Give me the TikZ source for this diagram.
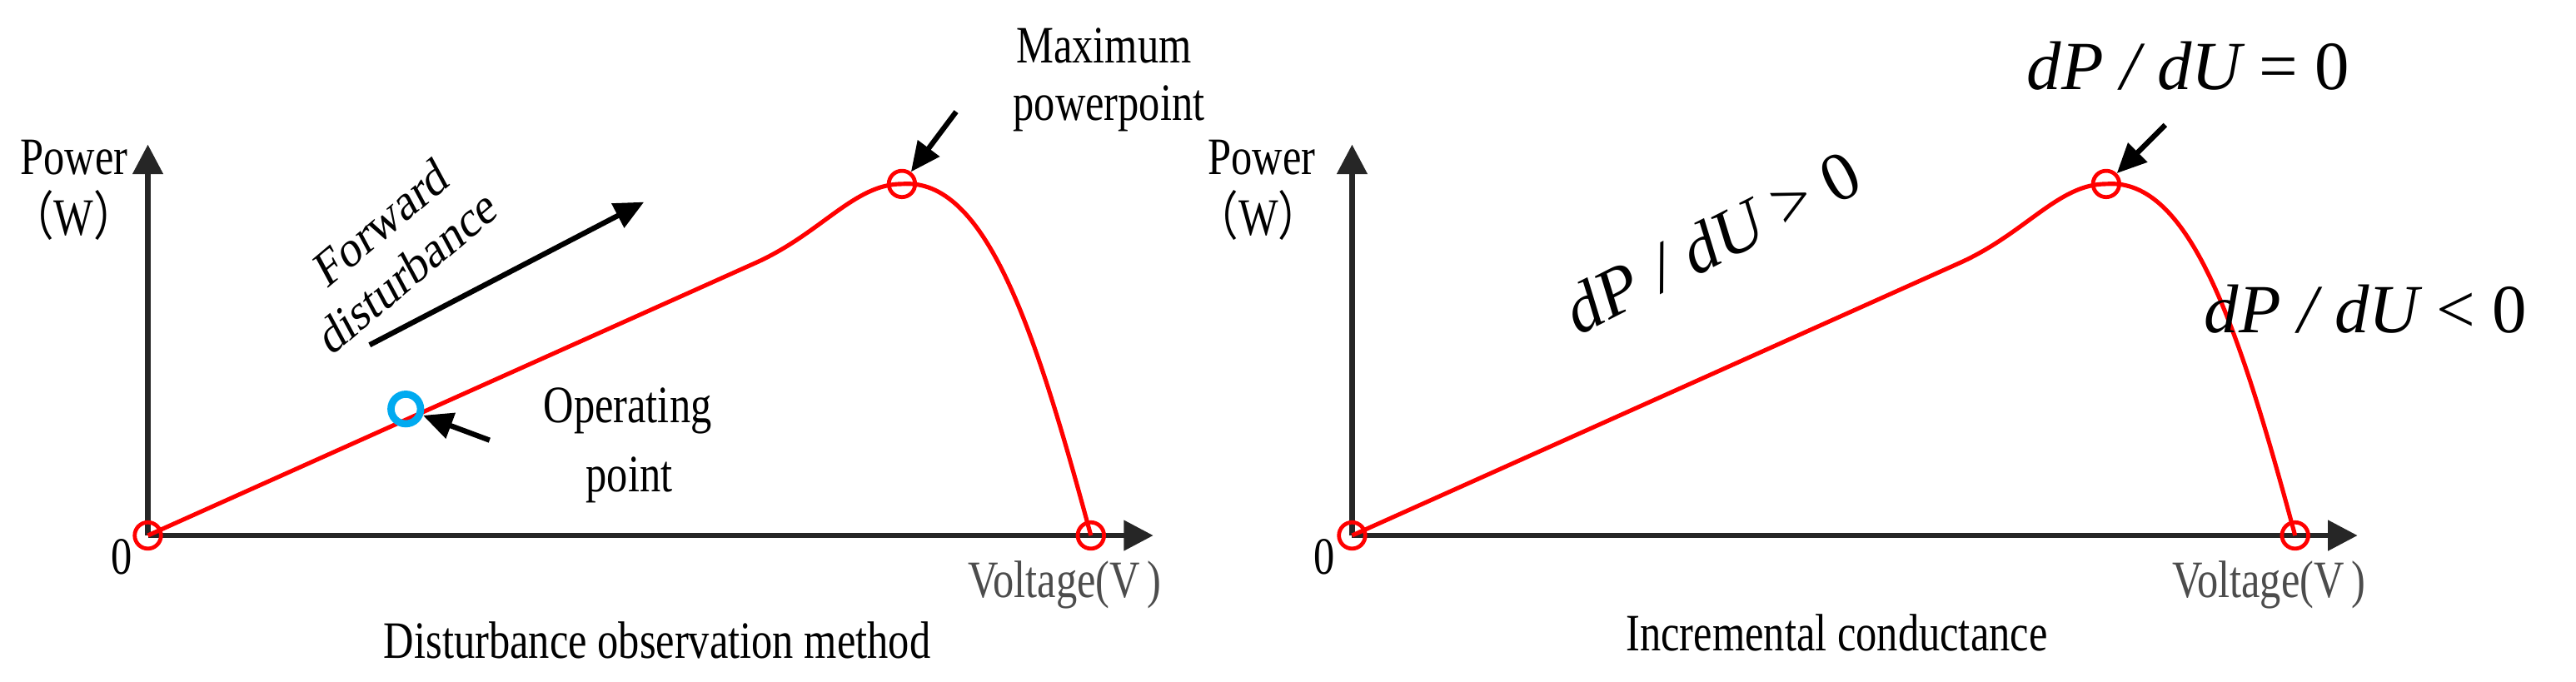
\documentclass[tikz,border=0pt]{standalone}
\usepackage{fontspec}
\setmainfont{Liberation Serif}
\newfontfamily\cjk{Noto Sans CJK SC}
\usetikzlibrary{arrows.meta}
\begin{document}
\begin{tikzpicture}[x=0.5pt,y=-0.5pt,
  axis/.style={line width=1.6pt,draw=black!85,-{Triangle[length=9pt,width=9pt]}},
  curve/.style={red,line width=1.3pt},
  pt/.style={draw=red,line width=1.2pt,circle,minimum size=8pt,inner sep=0pt},
  callout/.style={line width=1.6pt,-{Triangle[length=9pt,width=8pt]}},
  lbl/.style={font=\fontsize{16}{18}\selectfont,xscale=0.8,align=center},
  mlbl/.style={font=\fontsize{21}{23}\selectfont\itshape}]
\useasboundingbox (0,0) rectangle (1568,415);
% ---- left panel
\coordinate (O1) at (90,326);
\coordinate (Y1) at (90,88);
\coordinate (X1) at (702,326);
\draw[axis] (O1) -- (Y1);
\draw[axis] (O1) -- (X1);
\coordinate (P1) at (549,112);
\coordinate (E1) at (664,326);
\draw[curve] (O1) -- (460,160) .. controls (500,142) and (520,112) .. (P1)
  .. controls (600,108) and (630,200) .. (E1);
\node[pt] (o1) at (O1) {};
\node[pt] (m1) at (P1) {};
\node[pt] (e1) at (E1) {};
\node[pt,draw={rgb,255:red,0;green,170;blue,240},line width=2.2pt,minimum size=9pt] (op) at (247,249) {};
\node[lbl] (pw1) at (45,96) {Power};
\node[lbl] (w1) at (45,131) {{\cjk （}W{\cjk ）}};
\node[lbl] (z1) at (74,339) {0};
\node[lbl,text=black!70] (v1) at (648,356) {Voltage(V\,)};
\node[lbl] (t1) at (400,390) {Disturbance observation method};
\node[lbl] (mx) at (672,28) {Maximum};
\node[lbl] (pp) at (675,66) {powerpoint};
\draw[callout] (582,68) -- (m1);
\node[lbl] (opl) at (382,250) {Operating};
\node[lbl] (opl2) at (383,292) {point};
\draw[callout] (298,268) -- (op);
\coordinate (fa) at (225,210);
\coordinate (fb) at (392,123);
\draw[callout] (fa) -- (fb);
\node[lbl,rotate=34,xscale=1.05] (fw) at (240,150) {Forward\\disturbance};
% ---- right panel
\coordinate (O2) at (823,326);
\coordinate (Y2) at (823,88);
\coordinate (X2) at (1435,326);
\draw[axis] (O2) -- (Y2);
\draw[axis] (O2) -- (X2);
\coordinate (P2) at (1282,112);
\coordinate (E2) at (1397,326);
\draw[curve] (O2) -- (1193,160) .. controls (1233,142) and (1253,112) .. (P2)
  .. controls (1333,108) and (1363,200) .. (E2);
\node[pt] (o2) at (O2) {};
\node[pt] (m2) at (P2) {};
\node[pt] (e2) at (E2) {};
\node[lbl] (pw2) at (768,96) {Power};
\node[lbl] (w2) at (766,131) {{\cjk （}W{\cjk ）}};
\node[lbl] (z2) at (806,339) {0};
\node[lbl,text=black!70] (v2) at (1381,356) {Voltage(V\,)};
\node[lbl] (t2) at (1118,385) {Incremental conductance};
\node[mlbl] (d0) at (1332,40) {dP / dU \upshape= 0};
\draw[callout] (1318,76) -- (m2);
\node[mlbl,rotate=27] (dg) at (1042,147) {dP / dU \upshape> 0};
\node[mlbl] (dl) at (1440,188) {dP / dU \upshape< 0};
\end{tikzpicture}
\end{document}
